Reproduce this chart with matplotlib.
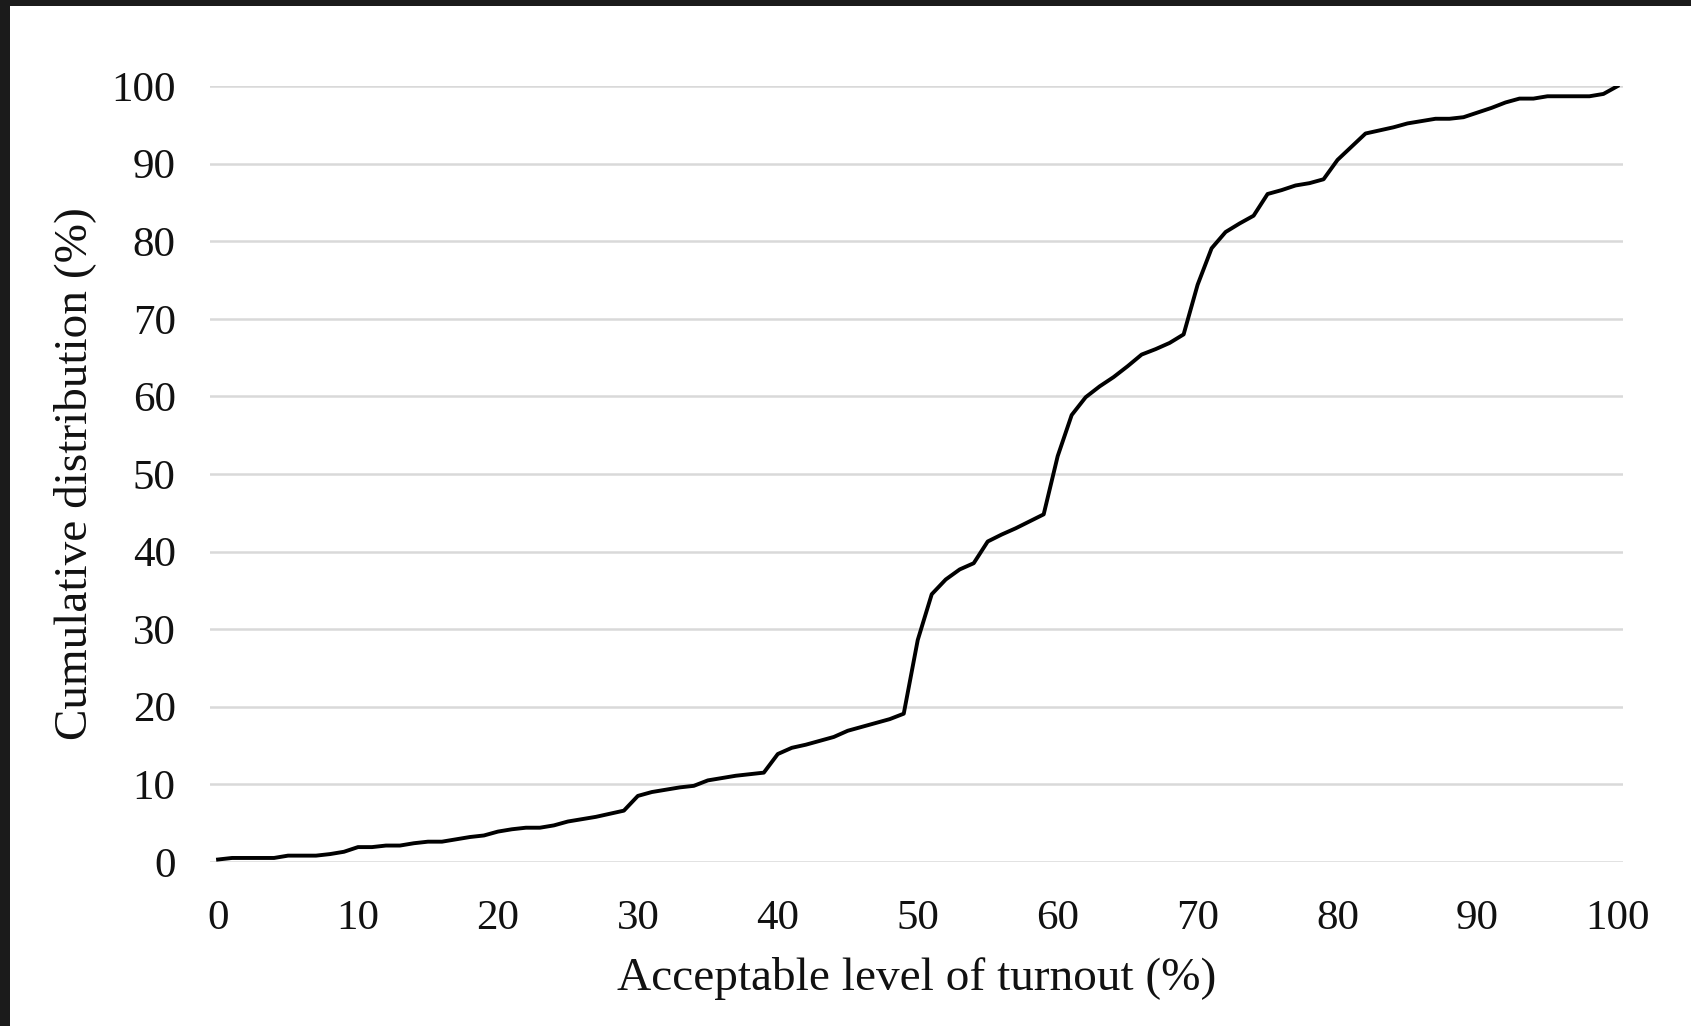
import matplotlib
matplotlib.use("Agg")
import matplotlib.pyplot as plt
from matplotlib.patches import Rectangle

turnout = list(range(0, 101))
cumulative = [
    0.3, 0.5, 0.5, 0.5, 0.5, 0.8, 0.8, 0.8, 1.0, 1.3,
    1.9, 1.9, 2.1, 2.1, 2.4, 2.6, 2.6, 2.9, 3.2, 3.4,
    3.9, 4.2, 4.4, 4.4, 4.7, 5.2, 5.5, 5.8, 6.2, 6.6,
    8.5, 9.0, 9.3, 9.6, 9.8, 10.5, 10.8, 11.1, 11.3, 11.5,
    13.9, 14.7, 15.1, 15.6, 16.1, 16.9, 17.4, 17.9, 18.4, 19.1,
    28.6, 34.5, 36.4, 37.7, 38.5, 41.3, 42.2, 43.0, 43.9, 44.8,
    52.3, 57.6, 59.9, 61.3, 62.5, 63.9, 65.4, 66.1, 66.9, 68.0,
    74.4, 79.1, 81.2, 82.3, 83.3, 86.1, 86.6, 87.2, 87.5, 88.0,
    90.5, 92.2, 93.9, 94.3, 94.7, 95.2, 95.5, 95.8, 95.8, 96.0,
    96.6, 97.2, 97.9, 98.4, 98.4, 98.7, 98.7, 98.7, 98.7, 99.0,
    100.0,
]
x_ticks = list(range(0, 101, 10))
y_ticks = list(range(0, 101, 10))
x_label = "Acceptable level of turnout (%)"
y_label = "Cumulative distribution (%)"

W, H = 1691, 1026
fig = plt.figure(figsize=(W / 100, H / 100), dpi=100, facecolor="#1b1b1b")
bg = Rectangle((10 / W, 0), 1 - 10 / W, 1 - 6 / H,
               transform=fig.transFigure, facecolor="white",
               edgecolor="none", zorder=-10)
fig.add_artist(bg)

ax = fig.add_axes([0.1244, 0.160, 0.9598 - 0.1244, 0.916 - 0.160])
ax.set_zorder(5)
ax.patch.set_alpha(0)

ax.plot(turnout, cumulative, color="black", linewidth=2.8, solid_joinstyle="round", zorder=3)

ax.set_xlim(-0.55, 100.4)
ax.set_ylim(0, 100)
ax.set_xticks(x_ticks)
ax.set_yticks(y_ticks)
ax.yaxis.grid(True, color="#d9d9d9", linewidth=1.8)
ax.set_axisbelow(True)
for s in ax.spines.values():
    s.set_visible(False)
ax.tick_params(length=0)

serif = ["Liberation Serif", "DejaVu Serif"]
for lab in ax.get_xticklabels() + ax.get_yticklabels():
    lab.set_fontfamily(serif)
    lab.set_fontsize(31)
    lab.set_color("#111111")
ax.tick_params(axis="x", pad=27)
ax.tick_params(axis="y", pad=25)

ax.set_xlabel(x_label, fontsize=34, family=serif, color="#111111", labelpad=14)
ax.set_ylabel(y_label, fontsize=34, family=serif, color="#111111", labelpad=11)

fig.savefig("out.png", dpi=100, facecolor=fig.get_facecolor())
